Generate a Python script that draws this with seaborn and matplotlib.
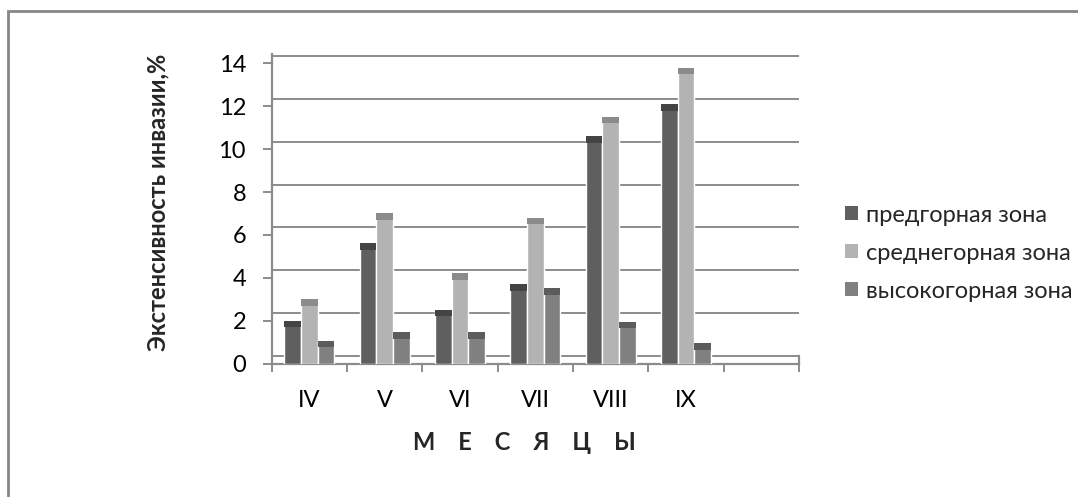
import numpy as np
import pandas as pd
import matplotlib
matplotlib.use("Agg")
import matplotlib.pyplot as plt
import seaborn as sns
from matplotlib.patches import Rectangle

# ---- data ----
months = ["IV", "V", "VI", "VII", "VIII", "IX"]
zones = ["предгорная зона", "среднегорная зона", "высокогорная зона"]
foothill = [2.0, 5.6, 2.5, 3.7, 10.6, 12.1]
midmount = [3.0, 7.0, 4.2, 6.8, 11.5, 13.8]
highmount = [1.05, 1.45, 1.45, 3.5, 1.95, 0.95]
y_ticks = [0, 2, 4, 6, 8, 10, 12, 14]

face_colors = ["#5f5f5f", "#b3b3b3", "#808080"]
cap_colors = ["#444444", "#8b8b8b", "#5c5c5c"]

df = pd.DataFrame({
    "month": months * 3,
    "zone": [zones[0]] * 6 + [zones[1]] * 6 + [zones[2]] * 6,
    "value": foothill + midmount + highmount,
})

sns.set_style("white")
plt.rcParams["font.family"] = ["Lato", "DejaVu Sans"]

W, H = 1078, 497
fig = plt.figure(figsize=(W / 100, H / 100), dpi=100)

# axes placed in pixel terms
left_px, right_px = 271.7, 799.0
zero_px, px_per_unit = 363.5, 21.43
ytop = 14.45
top_px = zero_px - ytop * px_per_unit
ax = fig.add_axes([left_px / W, (H - zero_px) / H,
                   (right_px - left_px) / W, (zero_px - top_px) / H])

sns.barplot(data=df, x="month", y="value", hue="zone", order=months,
            hue_order=zones, palette=face_colors, width=0.664, gap=0,
            saturation=1, errorbar=None, legend=False, ax=ax, zorder=3)

# darker top faces (pseudo 3D)
cap = 0.3
for cont, cc in zip(ax.containers, cap_colors):
    for p in cont:
        h = p.get_height()
        ax.add_patch(Rectangle((p.get_x(), h - cap), p.get_width(), cap,
                               facecolor=cc, edgecolor="none", zorder=4))

ax.set_xlim(-0.5, 6.5)
ax.set_ylim(0, ytop)

# back-wall gridlines, shifted a little up like the 3D wall
wall = 0.35
grid_col = "#8c8c8c"
for t in y_ticks:
    ax.axhline(t + wall, color=grid_col, lw=1.4, zorder=1)

ax.spines["top"].set_visible(False)
ax.spines["right"].set_bounds(0, wall)
for s in ["left", "bottom", "right"]:
    ax.spines[s].set_color(grid_col)
    ax.spines[s].set_linewidth(1.6)

ax.set_yticks(y_ticks)
ax.set_yticklabels([str(t) for t in y_ticks])
ax.tick_params(axis="y", direction="out", length=6.5, width=1.4,
               color=grid_col, pad=12, labelsize=17, labelcolor="black", left=True)

ax.set_xticks(range(len(months)))
ax.set_xticklabels(months)
ax.set_xticks(np.arange(-0.5, 7, 1.0), minor=True)
ax.tick_params(axis="x", which="major", length=0, pad=19, labelsize=17,
               labelcolor="black")
ax.tick_params(axis="x", which="minor", direction="out", length=6,
               width=1.4, color=grid_col, bottom=True)

ax.set_xlabel("")
ax.set_ylabel("")

fig.text(158 / W, 1 - 202 / H, "Экстенсивность инвазии,%", rotation=90,
         ha="center", va="center", fontsize=17, fontweight="bold")
fig.text(524 / W, 1 - 443 / H, "М    Е    С    Я    Ц    Ы",
         ha="center", va="center", fontsize=17, fontweight="bold")

handles = [Rectangle((0, 0), 1, 1, facecolor=c, edgecolor="none")
           for c in face_colors]
fig.legend(handles, zones, loc="center left",
           bbox_to_anchor=(836 / W, 1 - 253 / H), frameon=False,
           fontsize=17, handlelength=0.55, handleheight=0.55,
           handletextpad=0.3, labelspacing=0.72, borderaxespad=0)

# outer chart-area border (runs off the right and bottom edges)
fig.add_artist(Rectangle((7.5 / W, -0.5), 2, 1.5 - 10.7 / H,
                         transform=fig.transFigure, fill=False,
                         edgecolor="#868686", lw=2))

fig.savefig("out.png", dpi=100)
